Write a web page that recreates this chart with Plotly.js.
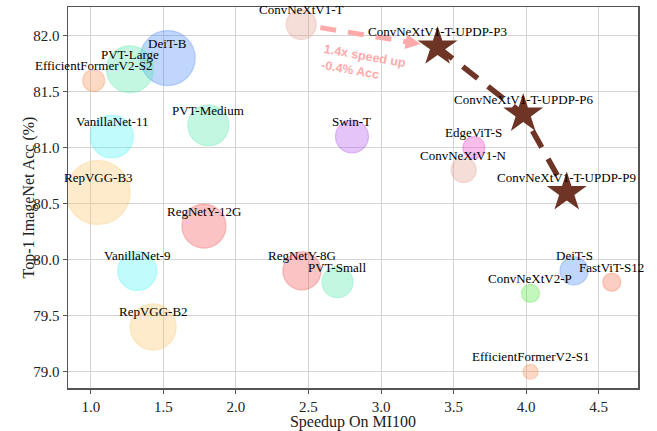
<!DOCTYPE html>
<html><head><meta charset="utf-8">
<script src="https://cdn.plot.ly/plotly-3.0.1.min.js"></script>
<style>html,body{margin:0;padding:0;background:#fff}</style>
</head><body><div id="chart" style="width:657px;height:431px"></div>
<script>
// ---- data ----
const models = ['ConvNeXtV1-T','DeiT-B','PVT-Large','EfficientFormerV2-S2','VanillaNet-11','PVT-Medium',
  'RepVGG-B3','RegNetY-12G','VanillaNet-9','RepVGG-B2','RegNetY-8G','PVT-Small','Swin-T','EdgeViT-S',
  'ConvNeXtV1-N','DeiT-S','FastViT-S12','ConvNeXtV2-P','EfficientFormerV2-S1'];
const speedup = [2.45,1.53,1.27,1.02,1.145,1.81,1.05,1.78,1.32,1.43,2.455,2.70,2.80,3.64,3.57,4.33,4.59,4.03,4.03];
const acc = [82.1,81.8,81.7,81.6,81.1,81.2,80.6,80.3,79.9,79.4,79.9,79.8,81.1,81.0,80.8,79.9,79.8,79.7,79.0];
const bubbleSize = [30,55,47,22,43,41,64,44,39,46,38,31,33,22,25,28,18,18,15];
const family = ['ConvNeXtV1','DeiT','PVT','EfficientFormerV2','VanillaNet','PVT','RepVGG','RegNetY','VanillaNet',
  'RepVGG','RegNetY','PVT','Swin','EdgeViT','ConvNeXtV1','DeiT','FastViT','ConvNeXtV2','EfficientFormerV2'];
const pruned = ['ConvNeXtV1-T-UPDP-P3','ConvNeXtV1-T-UPDP-P6','ConvNeXtV1-T-UPDP-P9'];
const prunedSpeedup = [3.39,3.98,4.28];
const prunedAcc = [81.9,81.3,80.6];
const xTicks = [1.0,1.5,2.0,2.5,3.0,3.5,4.0,4.5];
const yTicks = [79.0,79.5,80.0,80.5,81.0,81.5,82.0];

// ---- styles ----
const familyColor = {
  'ConvNeXtV1':'230,160,145','DeiT':'80,140,245','PVT':'90,235,175','EfficientFormerV2':'248,150,90',
  'VanillaNet':'80,245,245','RepVGG':'252,200,110','RegNetY':'245,85,85','Swin':'180,90,240',
  'EdgeViT':'240,70,200','FastViT':'250,115,80','ConvNeXtV2':'90,235,70'
};
const pink = 'rgb(255,170,170)';
const brown = '#6e3426';
const serif = 'Liberation Serif, Times New Roman, serif';

const traces = [];
// pink dashed arrow line from ConvNeXtV1-T to P3 (shortened to bubble edge / arrowhead)
const x0 = speedup[0], y0 = acc[0], x1 = prunedSpeedup[0], y1 = prunedAcc[0];
const lerp = (a,b,t)=>a+(b-a)*t;
traces.push({x:[lerp(x0,x1,0.14), lerp(x0,x1,0.78)], y:[lerp(y0,y1,0.14), lerp(y0,y1,0.78)],
  mode:'lines', line:{color:pink, width:5, dash:'16px,12px'}, hoverinfo:'skip', showlegend:false});

traces.push({
  x: speedup, y: acc, mode:'markers', type:'scatter', showlegend:false,
  marker:{size:bubbleSize, sizemode:'diameter',
    color: family.map(f=>'rgba('+familyColor[f]+',0.5)'),
    line:{color: family.map(f=>'rgba('+familyColor[f]+',0.55)'), width:1.2}}
});
traces.push({
  x: prunedSpeedup, y: prunedAcc, mode:'lines+markers', type:'scatter', showlegend:false,
  line:{color:brown, width:5.5, dash:'19px,13px'},
  marker:{symbol:'star', size:30, color:brown, line:{width:0}}
});

const annotations = [];
models.forEach((m,i)=>annotations.push({x:speedup[i], y:acc[i], text:m, showarrow:false, yshift:15,
  xanchor:'center', yanchor:'middle', font:{family:serif, size:13, color:'#000'}}));
pruned.forEach((m,i)=>annotations.push({x:prunedSpeedup[i], y:prunedAcc[i], text:m, showarrow:false, yshift:15,
  xanchor:'center', yanchor:'middle', font:{family:serif, size:13, color:'#000'}}));
// arrowhead
annotations.push({x:lerp(x0,x1,0.875), y:lerp(y0,y1,0.875), ax:lerp(x0,x1,0.77), ay:lerp(y0,y1,0.77),
  axref:'x', ayref:'y', xref:'x', yref:'y', text:'', showarrow:true, arrowhead:2, arrowsize:0.75,
  arrowwidth:4, arrowcolor:pink, standoff:0});
annotations.push({x:2.88, y:81.745, text:'1.4x speed up<br>-0.4% Acc', showarrow:false, textangle:10,
  align:'left', font:{family:'Liberation Sans, Arial, sans-serif', size:12.5, color:pink, weight:'bold'}});
// y-axis title as rotated annotation
annotations.push({xref:'paper', yref:'paper', x:0, y:0.5, xshift:-40, xanchor:'center', yanchor:'middle',
  text:'Top-1 ImageNet Acc (%)', textangle:-90, showarrow:false, font:{family:serif, size:16, color:'#222'}});

const axisCommon = {showgrid:true, gridcolor:'#d3d3d3', gridwidth:1, zeroline:false,
  showline:true, linecolor:'#555', linewidth:1.5, mirror:true, ticks:'outside', ticklen:4,
  tickcolor:'#555', tickfont:{family:serif, size:15, color:'#222'}};

const layout = {
  width:657, height:431, margin:{l:68, r:19, t:7, b:43},
  paper_bgcolor:'#fff', plot_bgcolor:'#fff',
  xaxis:Object.assign({}, axisCommon, {range:[0.843,4.771], tickvals:xTicks,
    ticktext:xTicks.map(v=>v.toFixed(1)),
    title:{text:'Speedup On MI100', font:{family:serif, size:16, color:'#222'}, standoff:3}}),
  yaxis:Object.assign({}, axisCommon, {range:[78.855,82.256], tickvals:yTicks,
    ticktext:yTicks.map(v=>v.toFixed(1))}),
  annotations: annotations, showlegend:false, hovermode:false
};
Plotly.newPlot('chart', traces, layout, {displayModeBar:false, staticPlot:true});
</script></body></html>
